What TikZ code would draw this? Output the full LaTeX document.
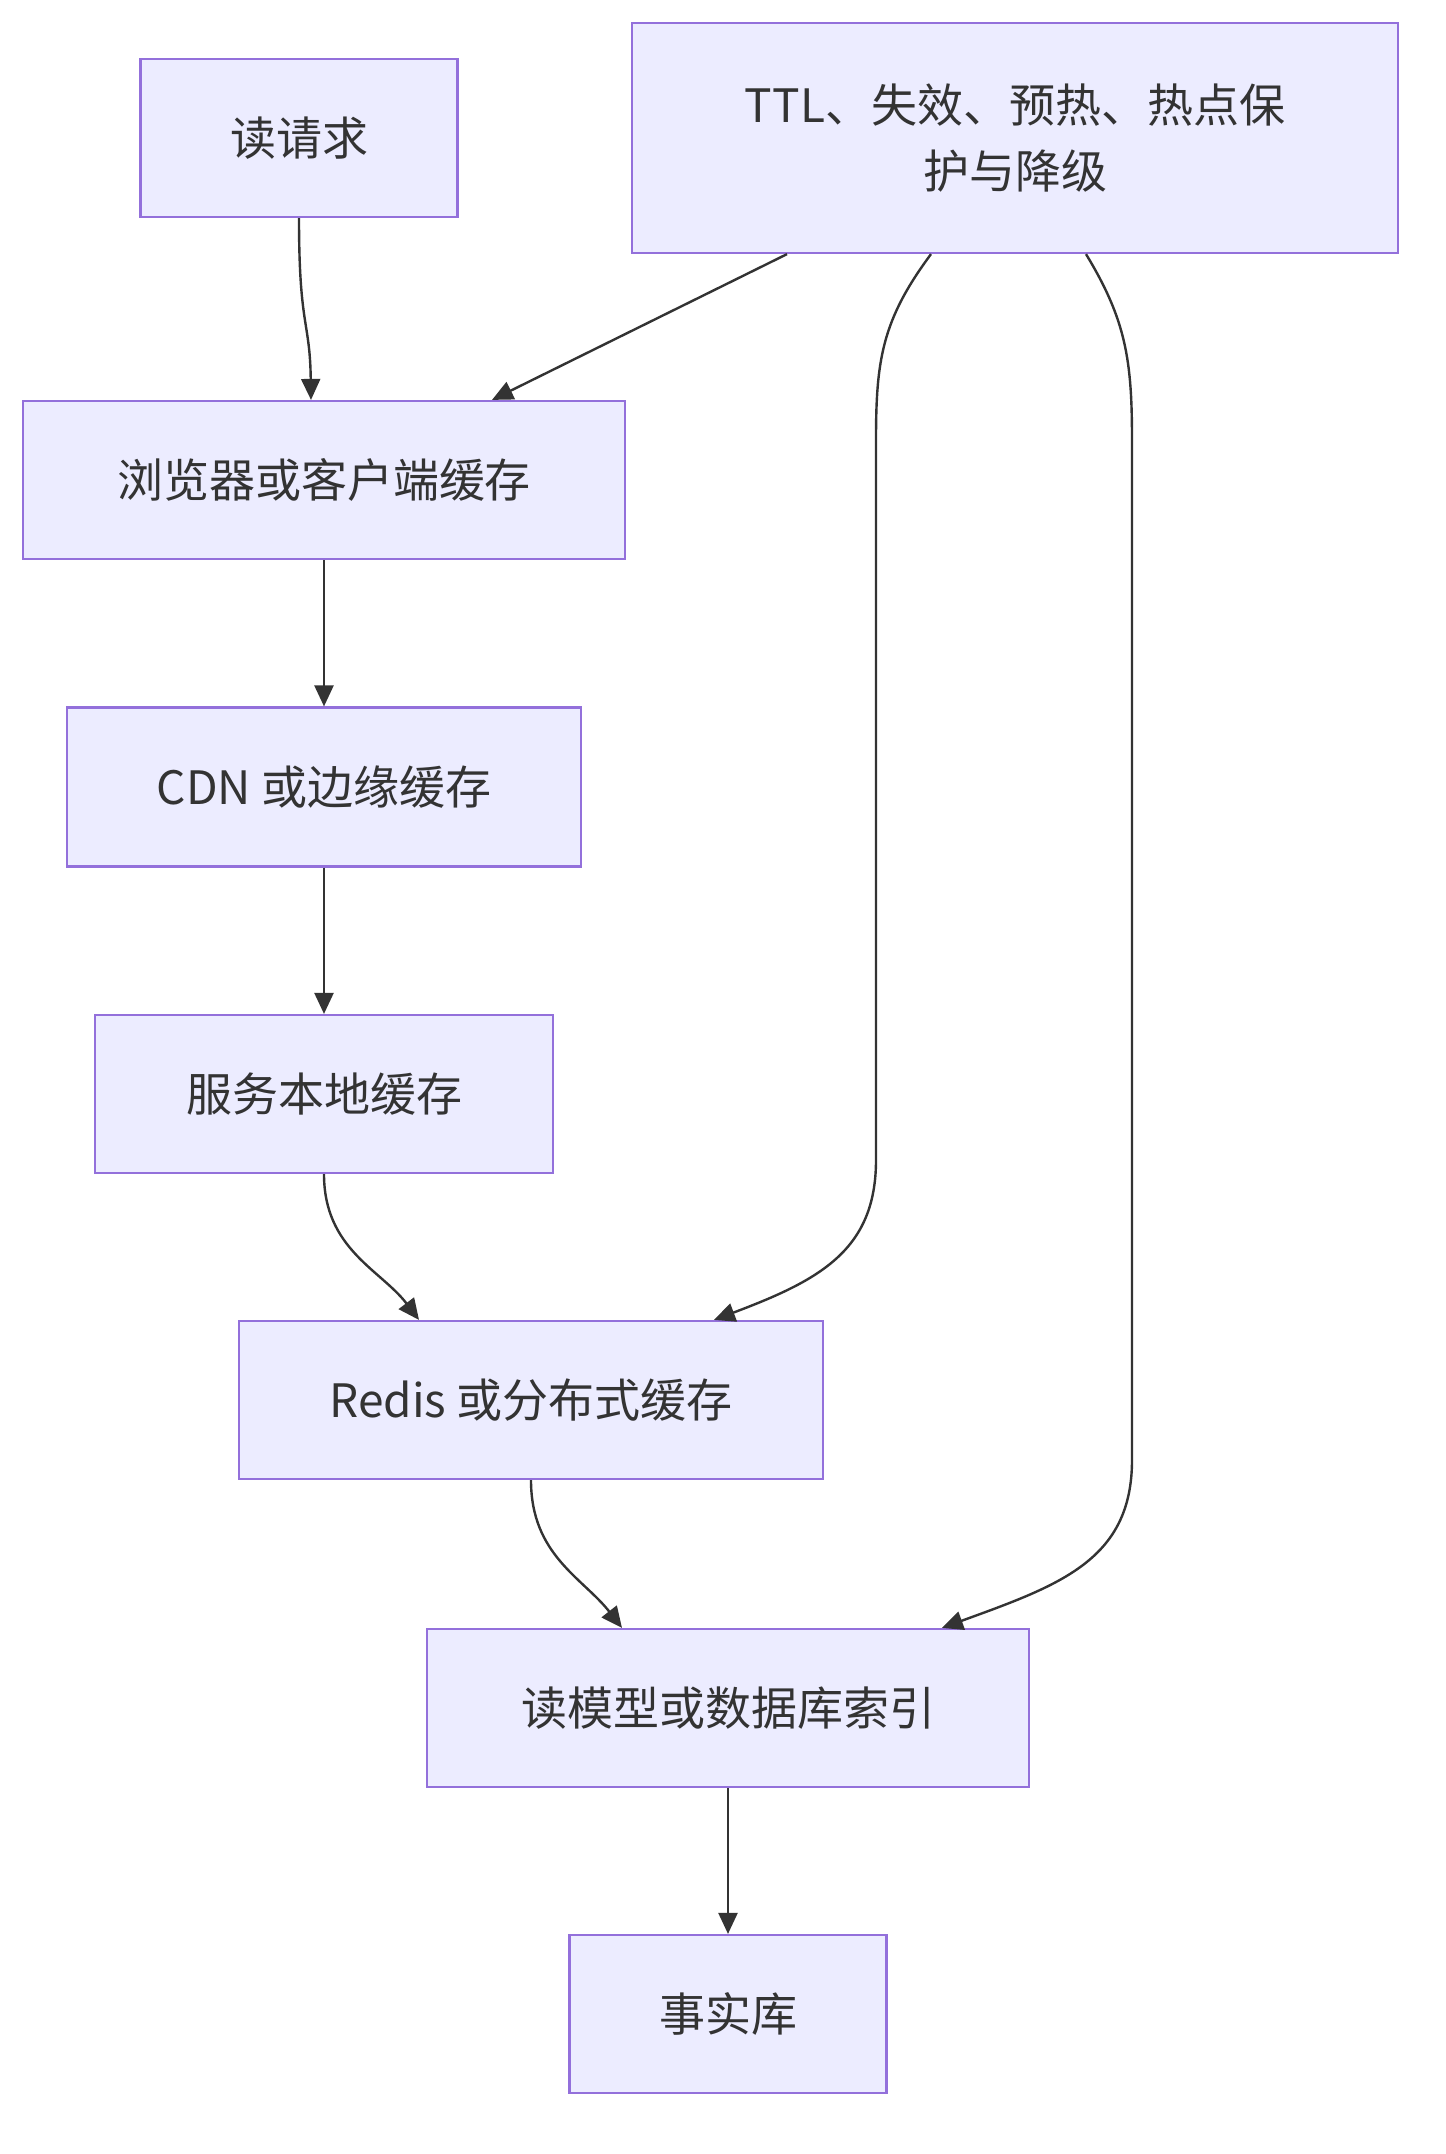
\documentclass[tikz,border=0pt]{standalone}
\usepackage{fontspec}
\setmainfont{Noto Sans CJK SC}
\usetikzlibrary{arrows.meta,calc}
\definecolor{boxfill}{HTML}{ECECFF}
\definecolor{boxline}{HTML}{9370DB}
\definecolor{ink}{HTML}{333333}
\begin{document}
\begin{tikzpicture}[x=0.5pt,y=-0.5pt,
  box/.style={draw=boxline,fill=boxfill,line width=1.1pt,text=ink,font=\fontsize{23}{33}\selectfont,inner sep=0pt,align=center},
  arr/.style={draw=ink,line width=1.2pt,-{Triangle[length=10.5pt,width=9.5pt]}}]
\useasboundingbox (0,0) rectangle (1446,2154);
\node[box,minimum width=158.5pt,minimum height=79pt] (req) at (299,138) {读请求};
\node[box,minimum width=383pt,minimum height=115pt] (ttl) at (1015,138) {TTL、失效、预热、热点保\\护与降级};
\node[box,minimum width=301pt,minimum height=79pt] (brw) at (324,480) {浏览器或客户端缓存};
\node[box,minimum width=257pt,minimum height=79.5pt] (cdn) at (324,787) {CDN 或边缘缓存};
\node[box,minimum width=229pt,minimum height=79pt] (loc) at (324,1094) {服务本地缓存};
\node[box,minimum width=292pt,minimum height=79pt] (red) at (531,1400) {Redis 或分布式缓存};
\node[box,minimum width=301pt,minimum height=79pt] (rdm) at (728,1708) {读模型或数据库索引};
\node[box,minimum width=158.5pt,minimum height=79pt] (fact) at (728,2014) {事实库};

\draw[arr] (req.south) .. controls ($(req.south)+(0,110)$) and ($(brw.north)+(-14,-80)$) .. ($(brw.north)+(-13,0)$);
\draw[arr] ($(ttl.south)+(-228,0)$) -- ($(brw.north)+(168,0)$);
\draw[arr] ($(ttl.south)+(-84,0)$) .. controls (882,320) and (876,360) .. (876,440)
  -- (876,1160) .. controls (876,1250) and (820,1280) .. ($(red.north)+(183,0)$);
\draw[arr] ($(ttl.south)+(71,0)$) .. controls (1126,320) and (1132,360) .. (1132,440)
  -- (1132,1460) .. controls (1132,1560) and (1060,1585) .. ($(rdm.north)+(214,0)$);
\draw[arr] (brw.south) -- (cdn.north);
\draw[arr] (cdn.south) -- (loc.north);
\draw[arr] (loc.south) .. controls ($(loc.south)+(0,75)$) and ($(red.north)+(-150,-50)$) .. ($(red.north)+(-112,0)$);
\draw[arr] (red.south) .. controls ($(red.south)+(0,75)$) and ($(rdm.north)+(-145,-50)$) .. ($(rdm.north)+(-106,0)$);
\draw[arr] (rdm.south) -- (fact.north);
\end{tikzpicture}
\end{document}
